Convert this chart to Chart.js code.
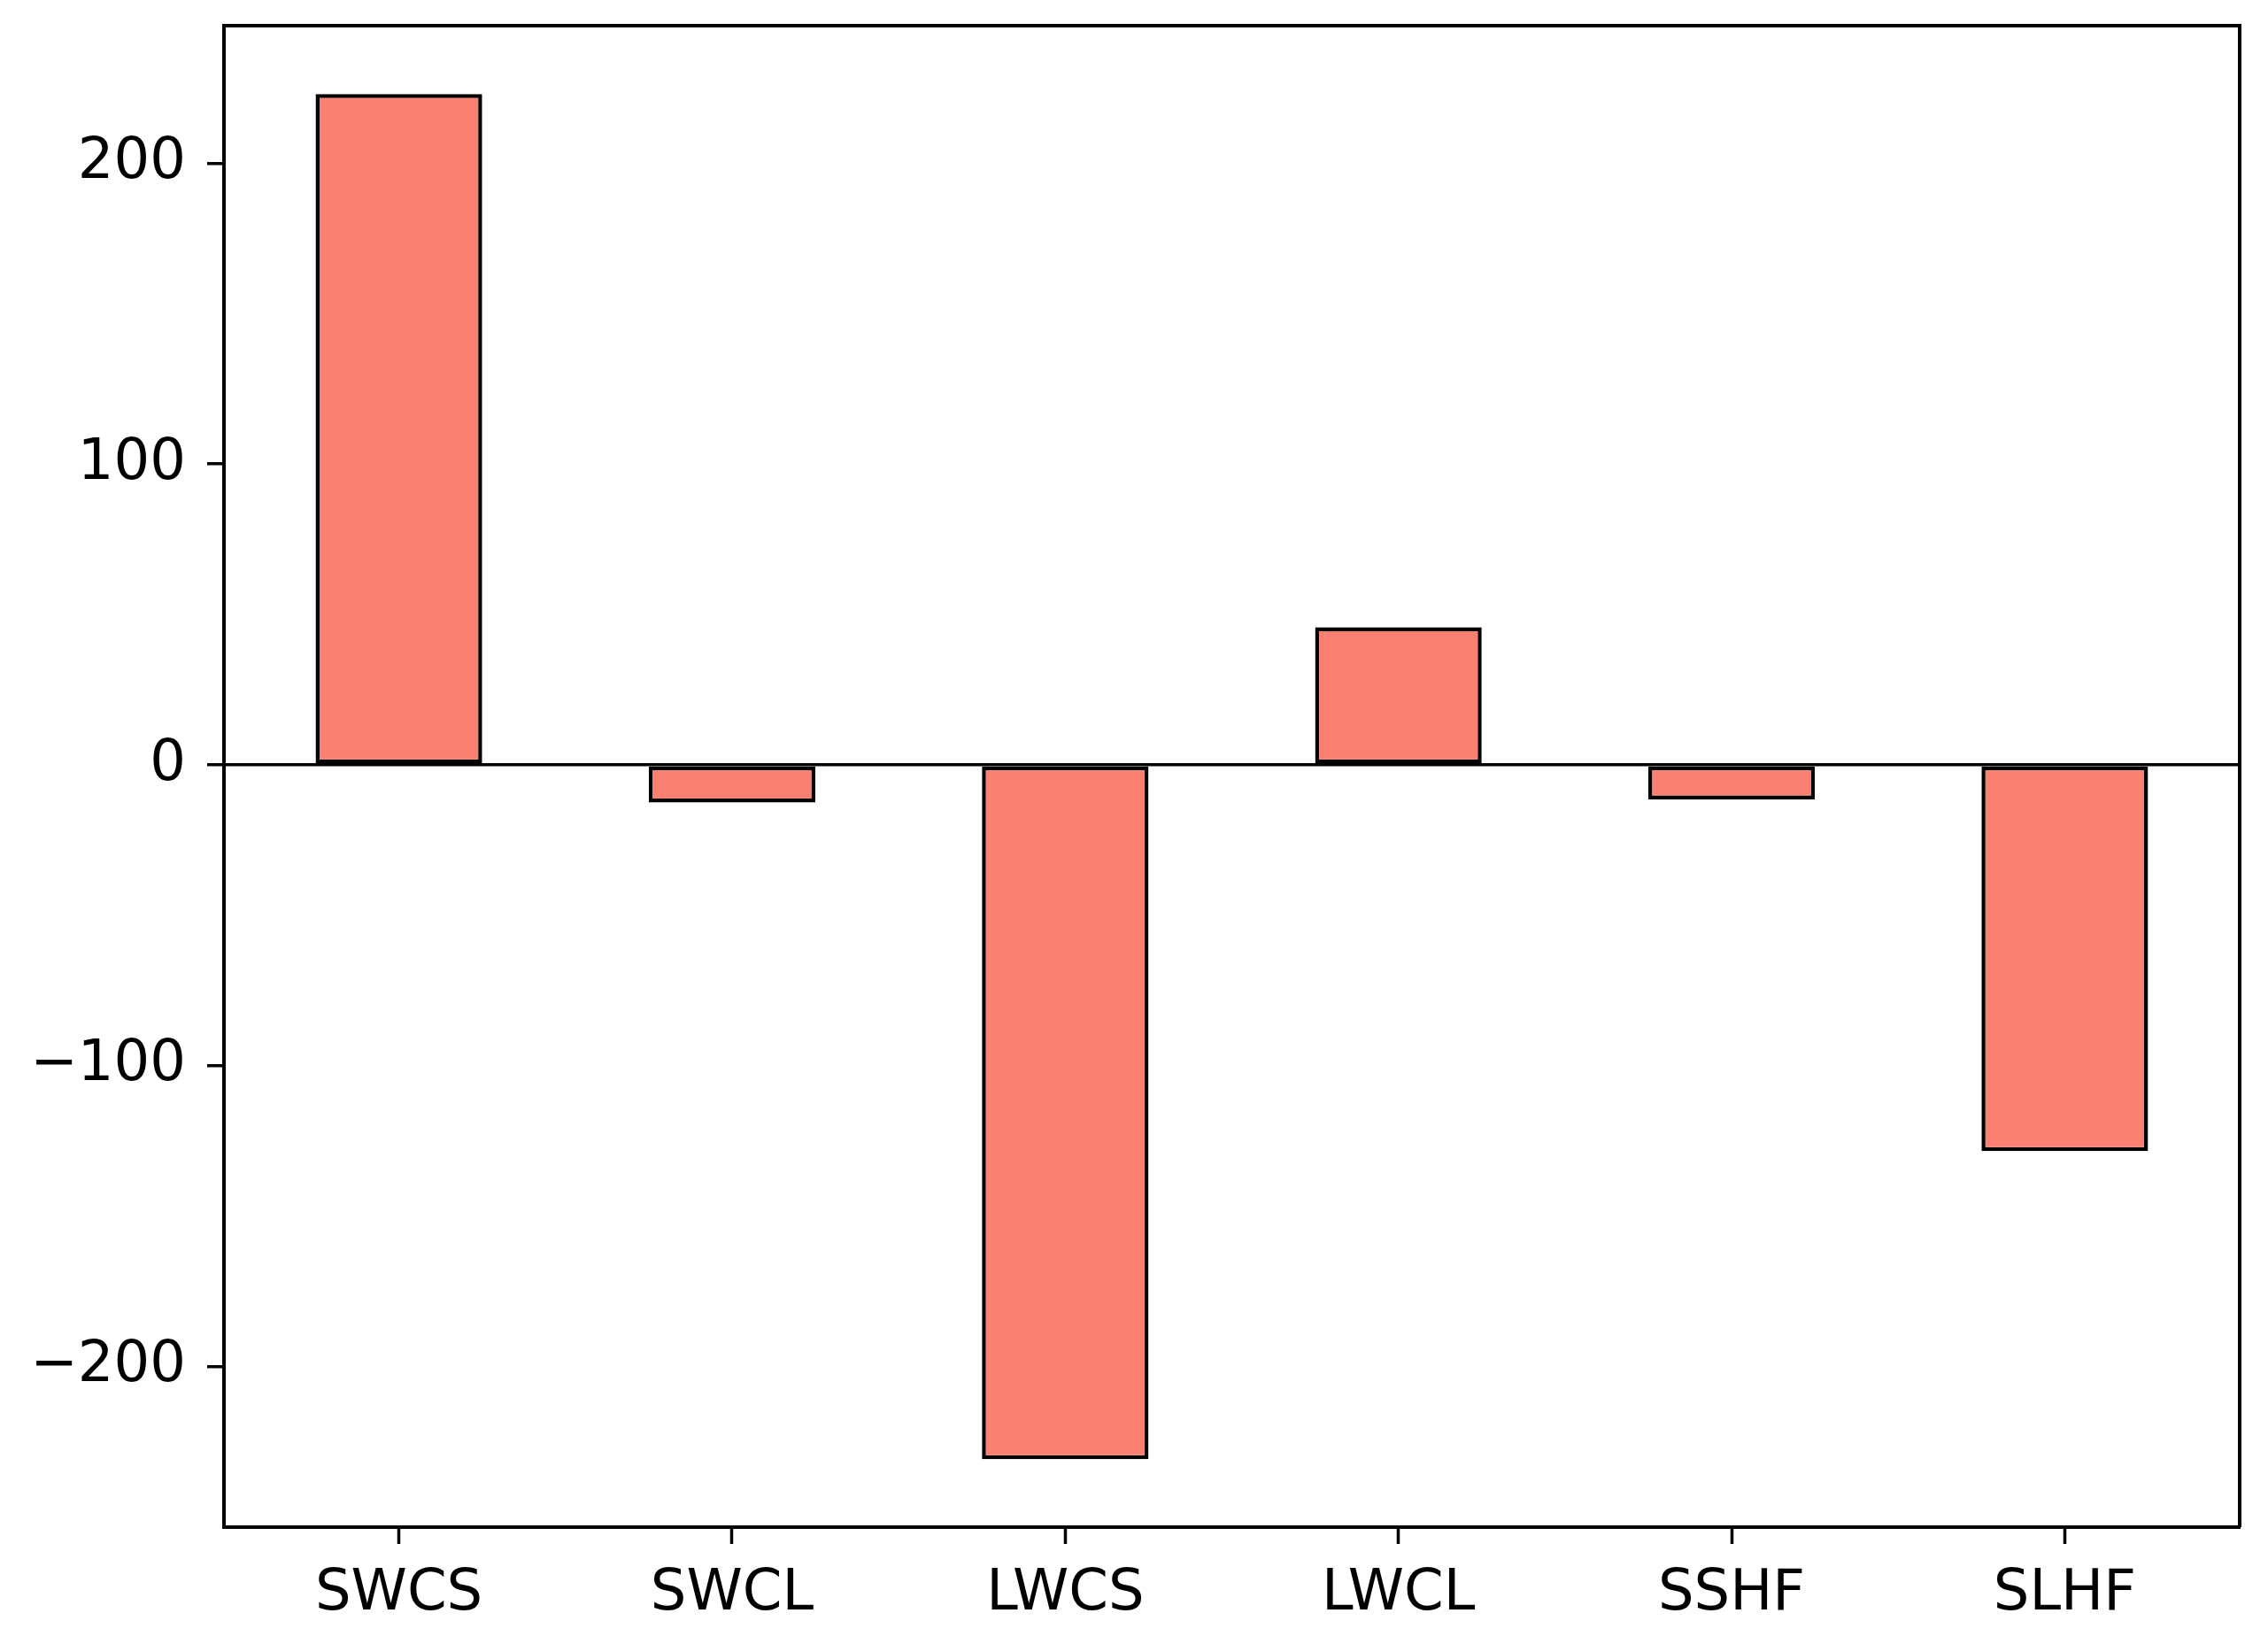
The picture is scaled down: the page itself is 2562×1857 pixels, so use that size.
<!DOCTYPE html>
<html>
<head>
<meta charset="utf-8">
<script src="https://cdn.jsdelivr.net/npm/chart.js@4"></script>
<style>
  html, body { margin: 0; padding: 0; background: #fff; }
  #wrap { width: 2562px; height: 1857px; }
</style>
</head>
<body>
<div id="wrap"><canvas id="myChart"></canvas></div>
<script>
const categories = ['SWCS', 'SWCL', 'LWCS', 'LWCL', 'SSHF', 'SLHF']
const values = [223, -12.5, -230.8, 45.7, -11.5, -128.4]
const yTicks = [-200, -100, 0, 100, 200]

const fontSpec = { family: 'DejaVu Sans', size: 64 }

// top and right spines, like a matplotlib box
const frame = {
    id: 'frame',
    afterDraw(chart) {
        const { ctx, chartArea: a } = chart
        ctx.save()
        ctx.strokeStyle = '#000'
        ctx.lineWidth = 4
        ctx.beginPath()
        ctx.moveTo(a.left, a.top)
        ctx.lineTo(a.right, a.top)
        ctx.lineTo(a.right, a.bottom)
        ctx.stroke()
        ctx.restore()
    }
}

const points = values.map((v, i) => ({ x: i, y: v }))

const context = document.getElementById('myChart').getContext('2d')
new Chart(context, {
    type: 'bar',
    data: {
        datasets: [{
            data: points,
            backgroundColor: '#FA8072',
            borderColor: '#000',
            borderWidth: 4.5,
            borderSkipped: false,
            categoryPercentage: 1.0,
            barPercentage: 0.5
        }]
    },
    options: {
        responsive: true,
        maintainAspectRatio: false,
        devicePixelRatio: 1,
        animation: false,
        layout: { padding: { top: 29, right: 32, left: 0, bottom: 0 } },
        plugins: {
            legend: { display: false },
            tooltip: { enabled: false }
        },
        scales: {
            x: {
                type: 'linear',
                min: -0.525,
                max: 5.525,
                offset: false,
                afterBuildTicks(scale) {
                    scale.ticks = categories.map((c, i) => ({ value: i }))
                },
                grid: {
                    display: true,
                    offset: false,
                    drawOnChartArea: false,
                    drawTicks: true,
                    tickLength: 19,
                    tickColor: '#000',
                    tickWidth: 3.5
                },
                border: { display: true, color: '#000', width: 4 },
                ticks: {
                    color: '#000',
                    font: fontSpec,
                    padding: 19,
                    maxRotation: 0,
                    autoSkip: false,
                    callback: v => categories[v]
                },
                afterFit(scale) {
                    scale.height = 132
                    scale.paddingLeft = 0
                    scale.paddingRight = 0
                }
            },
            y: {
                min: -253.4,
                max: 245.7,
                afterBuildTicks(scale) {
                    scale.ticks = yTicks.map(v => ({ value: v }))
                },
                grid: {
                    display: true,
                    drawOnChartArea: true,
                    drawTicks: true,
                    tickLength: 19,
                    tickColor: '#000',
                    tickWidth: 3.5,
                    lineWidth: 3.5,
                    color: ctx => (ctx.tick && ctx.tick.value === 0) ? '#000' : 'rgba(0,0,0,0)'
                },
                border: { display: true, color: '#000', width: 4 },
                ticks: {
                    color: '#000',
                    font: fontSpec,
                    padding: 24,
                    callback: v => String(v).replace('-', '\u2212')
                },
                afterFit(scale) {
                    scale.width = 253
                    scale.paddingTop = 0
                    scale.paddingBottom = 0
                }
            }
        }
    },
    plugins: [frame]
})
</script>
</body>
</html>
